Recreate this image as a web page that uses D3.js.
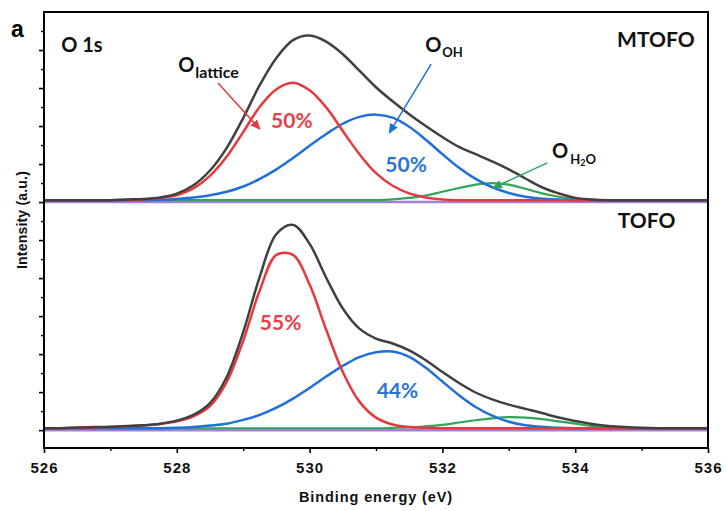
<!DOCTYPE html>
<html>
<head>
<meta charset="utf-8">
<script src="https://cdn.jsdelivr.net/npm/d3@7"></script>
<style>
  body { margin: 0; background: #fff; }
  svg { display: block; }
  .axis text { font-family: Arial, 'Liberation Sans', sans-serif; font-weight: bold; }
  .note { font-family: Lato, 'Open Sans', sans-serif; font-weight: bold; }
</style>
</head>
<body>
<div id="chart"></div>
<script>
const width = 726
const height = 511

// binding energy grid (eV)
const energies = [526, 526.25, 526.5, 526.75, 527, 527.25, 527.5, 527.75, 528, 528.25, 528.5, 528.75,
  529, 529.25, 529.5, 529.75, 530, 530.25, 530.5, 530.75, 531, 531.25, 531.5, 531.75,
  532, 532.25, 532.5, 532.75, 533, 533.25, 533.5, 533.75, 534, 534.25, 534.5, 534.75,
  535, 535.25, 535.5, 535.75, 536]

// MTOFO (upper trace)
const mtofoEnvelope = [0.05, 0.05, 0.05, 0.05, 0.05, 0.07, 0.08, 0.12, 0.22, 0.44, 0.83, 1.42,
  2.21, 3.08, 3.79, 4.26, 4.38, 4.22, 3.89, 3.46, 3.02, 2.65, 2.31, 2.00,
  1.71, 1.45, 1.26, 1.07, 0.86, 0.62, 0.39, 0.23, 0.11, 0.07, 0.05, 0.05,
  0.05, 0.05, 0.05, 0.05, 0.05]
const mtofoLattice = [0.05, 0.05, 0.05, 0.05, 0.05, 0.06, 0.07, 0.10, 0.18, 0.36, 0.69, 1.19,
  1.84, 2.51, 2.97, 3.14, 2.94, 2.49, 1.87, 1.26, 0.76, 0.43, 0.23, 0.12,
  0.07, 0.05, 0.05, 0.05, 0.05, 0.05, 0.05, 0.05, 0.05, 0.05, 0.05, 0.05,
  0.05, 0.05, 0.05, 0.05, 0.05]
const mtofoHydroxyl = [0.05, 0.05, 0.05, 0.05, 0.05, 0.05, 0.05, 0.06, 0.08, 0.12, 0.18, 0.27,
  0.41, 0.61, 0.86, 1.16, 1.48, 1.79, 2.06, 2.24, 2.30, 2.22, 1.98, 1.64,
  1.26, 0.90, 0.61, 0.39, 0.24, 0.14, 0.09, 0.07, 0.05, 0.05, 0.05, 0.05,
  0.05, 0.05, 0.05, 0.05, 0.05]
const mtofoWater = [0.05, 0.05, 0.05, 0.05, 0.05, 0.05, 0.05, 0.05, 0.05, 0.05, 0.05, 0.05,
  0.05, 0.05, 0.05, 0.05, 0.05, 0.05, 0.05, 0.05, 0.05, 0.07, 0.11, 0.17,
  0.27, 0.37, 0.46, 0.50, 0.46, 0.35, 0.23, 0.14, 0.08, 0.06, 0.05, 0.05,
  0.05, 0.05, 0.05, 0.05, 0.05]

// TOFO (lower trace)
const tofoEnvelope = [0.05, 0.05, 0.07, 0.08, 0.09, 0.11, 0.13, 0.17, 0.25, 0.40, 0.71, 1.39,
  2.58, 4.04, 5.16, 5.40, 4.90, 4.01, 3.20, 2.67, 2.41, 2.28, 2.10, 1.84,
  1.53, 1.24, 0.99, 0.81, 0.67, 0.56, 0.45, 0.33, 0.24, 0.16, 0.11, 0.08,
  0.06, 0.05, 0.05, 0.05, 0.05]
const tofoLattice = [0.05, 0.05, 0.06, 0.07, 0.08, 0.10, 0.12, 0.16, 0.23, 0.36, 0.63, 1.26,
  2.35, 3.68, 4.61, 4.61, 3.83, 2.64, 1.53, 0.75, 0.33, 0.15, 0.08, 0.06,
  0.05, 0.05, 0.05, 0.05, 0.05, 0.05, 0.05, 0.05, 0.05, 0.05, 0.05, 0.05,
  0.05, 0.05, 0.05, 0.05, 0.05]
const tofoHydroxyl = [0.05, 0.05, 0.05, 0.05, 0.05, 0.05, 0.05, 0.05, 0.06, 0.08, 0.12, 0.17,
  0.27, 0.40, 0.59, 0.83, 1.11, 1.41, 1.69, 1.92, 2.05, 2.07, 1.93, 1.64,
  1.28, 0.92, 0.61, 0.38, 0.22, 0.13, 0.09, 0.06, 0.05, 0.05, 0.05, 0.05,
  0.05, 0.05, 0.05, 0.05, 0.05]
const tofoWater = [0.05, 0.05, 0.05, 0.05, 0.05, 0.05, 0.05, 0.05, 0.05, 0.05, 0.05, 0.05,
  0.05, 0.05, 0.05, 0.05, 0.05, 0.05, 0.05, 0.05, 0.05, 0.06, 0.07, 0.10,
  0.14, 0.20, 0.26, 0.31, 0.34, 0.33, 0.29, 0.23, 0.17, 0.11, 0.08, 0.06,
  0.05, 0.05, 0.05, 0.05, 0.05]

const xTicks = [526, 528, 530, 532, 534, 536]
const xMinorTicks = [527, 529, 531, 533, 535]
const yTicks = [0, 1, 2, 3, 4, 5, 6, 7, 8, 9, 10]
const yMinorTicks = [0.5, 1.5, 2.5, 3.5, 4.5, 5.5, 6.5, 7.5, 8.5, 9.5, 10.5]
const sampleNames = ['MTOFO', 'TOFO']
const mtofoShares = ['50%', '50%']
const tofoShares = ['55%', '44%']

const theme = {
  envelope: '#404040',
  lattice: '#e8383d',
  hydroxyl: '#1f6fd8',
  water: '#2fa55b',
  baseline: '#a680d8',
  latticeText: '#e8404a',
  hydroxylText: '#2a74d3'
}
const axisFont = "Arial, 'Liberation Sans', sans-serif"

const x = d3.scaleLinear().domain([526, 536]).range([44, 708])
const y = d3.scaleLinear().domain([-0.47, 11]).range([448, 12])

const svg = d3.select('#chart')
  .append('svg')
  .attr('width', width)
  .attr('height', height)

// arrow heads
const defs = svg.append('defs')
;['lattice', 'hydroxyl', 'water'].forEach(k => {
  defs.append('marker')
    .attr('id', 'arrow-' + k)
    .attr('markerUnits', 'userSpaceOnUse')
    .attr('markerWidth', 10)
    .attr('markerHeight', 9)
    .attr('refX', 9)
    .attr('refY', 4.5)
    .attr('orient', 'auto')
    .append('path')
    .attr('d', 'M0,0 L10,4.5 L0,9 Z')
    .attr('fill', theme[k])
})

const plot = svg.append('g')

const panels = [
  { offset: 6, env: mtofoEnvelope, lat: mtofoLattice, oh: mtofoHydroxyl, h2o: mtofoWater },
  { offset: 0, env: tofoEnvelope, lat: tofoLattice, oh: tofoHydroxyl, h2o: tofoWater }
]

panels.forEach(p => {
  const line = d3.line()
    .x((d, i) => x(energies[i]))
    .y(d => y(d + p.offset))
    .curve(d3.curveCatmullRom.alpha(0.5))

  plot.append('line')
    .attr('x1', x(526)).attr('x2', x(536))
    .attr('y1', y(p.offset)).attr('y2', y(p.offset))
    .attr('stroke', theme.baseline)
    .attr('stroke-width', 2.5)

  const series = [
    { data: p.h2o, color: theme.water, w: 2.2 },
    { data: p.oh, color: theme.hydroxyl, w: 2.5 },
    { data: p.lat, color: theme.lattice, w: 2.5 },
    { data: p.env, color: theme.envelope, w: 2.5 }
  ]
  series.forEach(s => {
    plot.append('path')
      .datum(s.data)
      .attr('d', line)
      .attr('fill', 'none')
      .attr('stroke', s.color)
      .attr('stroke-width', s.w)
      .attr('stroke-linejoin', 'round')
  })
})

// axes
const xAxis = svg.append('g')
  .attr('class', 'axis')
  .attr('transform', `translate(0,${y.range()[0]})`)
  .call(d3.axisBottom(x).tickValues(xTicks).tickSize(5).tickFormat(d3.format('d')))
xAxis.select('.domain').remove()
xAxis.selectAll('line').attr('stroke', '#000').attr('stroke-width', 1.6)
xAxis.selectAll('text')
  .attr('y', 25).attr('dy', null)
  .attr('font-size', 15)
  .attr('letter-spacing', 1)
  .attr('fill', '#111')

const xMinor = svg.append('g')
  .attr('transform', `translate(0,${y.range()[0]})`)
  .call(d3.axisBottom(x).tickValues(xMinorTicks).tickSize(3).tickFormat(''))
xMinor.select('.domain').remove()
xMinor.selectAll('line').attr('stroke', '#000').attr('stroke-width', 1.4)

const yAxis = svg.append('g')
  .attr('transform', `translate(${x.range()[0]},0)`)
  .call(d3.axisLeft(y).tickValues(yTicks).tickSize(5).tickFormat(''))
yAxis.select('.domain').remove()
yAxis.selectAll('line').attr('stroke', '#000').attr('stroke-width', 1.6)

const yMinor = svg.append('g')
  .attr('transform', `translate(${x.range()[0]},0)`)
  .call(d3.axisLeft(y).tickValues(yMinorTicks).tickSize(3).tickFormat(''))
yMinor.select('.domain').remove()
yMinor.selectAll('line').attr('stroke', '#000').attr('stroke-width', 1.4)

// frame
svg.append('rect')
  .attr('x', x.range()[0])
  .attr('y', y.range()[1])
  .attr('width', x.range()[1] - x.range()[0])
  .attr('height', y.range()[0] - y.range()[1])
  .attr('fill', 'none')
  .attr('stroke', '#000')
  .attr('stroke-width', 2)

// axis titles
svg.append('text')
  .attr('x', (x.range()[0] + x.range()[1]) / 2)
  .attr('y', 502)
  .attr('text-anchor', 'middle')
  .attr('font-family', axisFont)
  .attr('font-weight', 'bold')
  .attr('font-size', 14.5)
  .attr('letter-spacing', 0.9)
  .attr('fill', '#111')
  .text('Binding energy (eV)')

svg.append('text')
  .attr('transform', 'translate(27,220) rotate(-90)')
  .attr('text-anchor', 'middle')
  .attr('font-family', axisFont)
  .attr('font-weight', 'bold')
  .attr('font-size', 14)
  .attr('letter-spacing', 0.2)
  .attr('fill', '#111')
  .text('Intensity (a.u.)')

svg.append('text')
  .attr('x', 11)
  .attr('y', 37)
  .attr('font-family', axisFont)
  .attr('font-weight', 'bold')
  .attr('font-size', 23)
  .text('a')

// annotations
function note(e, v, size, color) {
  return svg.append('text')
    .attr('class', 'note')
    .attr('x', x(e))
    .attr('y', y(v))
    .attr('font-size', size)
    .attr('fill', color)
}

note(526.26, 9.95, 20, '#111').text('O 1s')
note(534.63, 10.08, 21, '#111').text(sampleNames[0])
note(534.64, 5.32, 21, '#111').text(sampleNames[1])

const oLat = note(528.02, 9.42, 20, '#111')
oLat.append('tspan').text('O')
oLat.append('tspan').attr('font-size', 16).attr('dy', 6).attr('dx', 1).text('lattice')

const oOH = note(531.74, 9.95, 20, '#111')
oOH.append('tspan').text('O')
oOH.append('tspan').attr('font-size', 13).attr('dy', 5).attr('dx', 1).text('OH')

const oH2O = note(533.65, 7.16, 20, '#111')
oH2O.append('tspan').text('O')
oH2O.append('tspan').attr('font-size', 13).attr('dy', 6).attr('dx', 2).text('H')
oH2O.append('tspan').attr('font-size', 9).attr('dy', 2).text('2')
oH2O.append('tspan').attr('font-size', 13).attr('dy', -2).text('O')

note(529.42, 7.95, 21, theme.latticeText).text(mtofoShares[0])
note(531.14, 6.79, 21, theme.hydroxylText).text(mtofoShares[1])
note(529.25, 2.63, 21, theme.latticeText).text(tofoShares[0])
note(531.01, 0.84, 21, theme.hydroxylText).text(tofoShares[1])

const arrows = [
  { from: [528.62, 9.13], to: [529.25, 7.92], key: 'lattice' },
  { from: [531.83, 9.63], to: [531.2, 7.82], key: 'hydroxyl' },
  { from: [533.58, 7.03], to: [532.76, 6.37], key: 'water' }
]
arrows.forEach(a => {
  svg.append('line')
    .attr('x1', x(a.from[0])).attr('y1', y(a.from[1]))
    .attr('x2', x(a.to[0])).attr('y2', y(a.to[1]))
    .attr('stroke', theme[a.key])
    .attr('stroke-width', 1.5)
    .attr('marker-end', `url(#arrow-${a.key})`)
})
</script>
</body>
</html>
